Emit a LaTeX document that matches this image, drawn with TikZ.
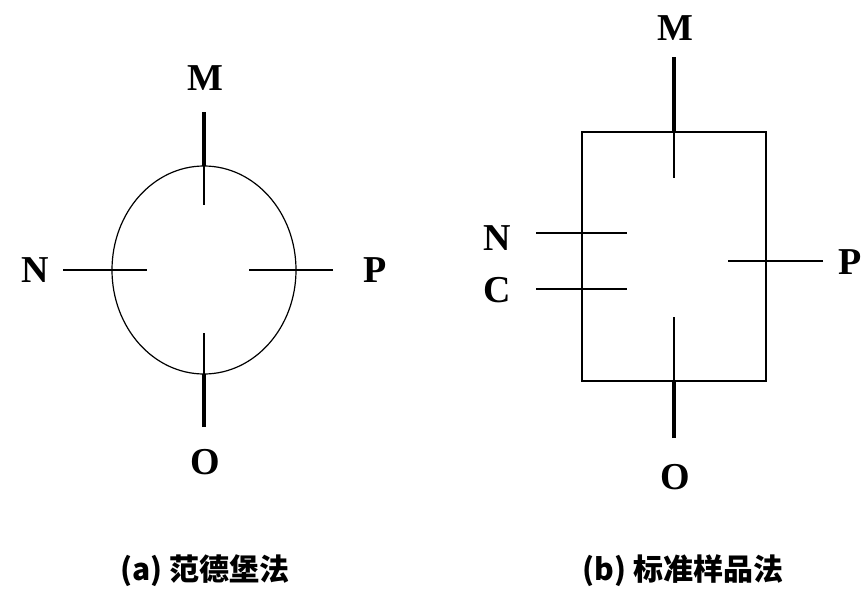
\documentclass[tikz,border=0pt]{standalone}
\usepackage{fontspec}
\setmainfont{Liberation Serif}
\newfontfamily\cjk{Noto Sans CJK SC}
\usetikzlibrary{shapes.geometric}

\begin{document}
\begin{tikzpicture}[
x=0.5pt,
y=-0.5pt,
lead/.style={line width=1.8pt},
sidelead/.style={line width=1pt},
probe/.style={line width=0.6pt},
sample/.style={draw,
line width=0.6pt,
inner sep=0pt,
outer sep=0pt},
tag/.style={font=\fontsize{19}{21}\selectfont\bfseries, inner sep=0pt},
caption/.style={font=\cjk\bfseries\fontsize{15}{17}\selectfont, inner sep=0pt}
]
\useasboundingbox (0,0) rectangle (867,594);

% (a) van der Pauw sample
\node[sample, ellipse, minimum width=92pt, minimum height=104pt] (disc) at (204,270) {};

\coordinate (aMout) at (204,112);
\coordinate (aMin) at (204,205);
\coordinate (aNout) at (63,270);
\coordinate (aNin) at (147,270);
\coordinate (aPout) at (333,270);
\coordinate (aPin) at (249,270);
\coordinate (aOout) at (204,427);
\coordinate (aOin) at (204,333);

\draw[lead] (aMout) -- (disc.north);
\draw[probe] (disc.north) -- (aMin);
\draw[sidelead] (aNout) -- (disc.west);
\draw[probe] (disc.west) -- (aNin);
\draw[sidelead] (aPout) -- (disc.east);
\draw[probe] (disc.east) -- (aPin);
\draw[lead] (aOout) -- (disc.south);
\draw[probe] (disc.south) -- (aOin);

\node[tag] (aM) at (205,78) {M};
\node[tag] (aN) at (35,270) {N};
\node[tag] (aP) at (375,270) {P};
\node[tag] (aO) at (205,462) {O};

% (b) standard sample
\node[sample, rectangle, minimum width=92pt, minimum height=124.5pt] (bar) at (674,256.5) {};

\coordinate (bMout) at (674,57);
\coordinate (bMin) at (674,178);
\coordinate (bOout) at (674,438);
\coordinate (bOin) at (674,317);
\coordinate (bNout) at (536,233);
\coordinate (bNin) at (627,233);
\coordinate (bCout) at (536,289);
\coordinate (bCin) at (627,289);
\coordinate (bPout) at (823,261);
\coordinate (bPin) at (728,261);
\coordinate (bNedge) at (bar.west |- bNout);
\coordinate (bCedge) at (bar.west |- bCout);
\coordinate (bPedge) at (bar.east |- bPout);

\draw[lead] (bMout) -- (bar.north);
\draw[probe] (bar.north) -- (bMin);
\draw[lead] (bOout) -- (bar.south);
\draw[probe] (bar.south) -- (bOin);
\draw[sidelead] (bNout) -- (bNedge);
\draw[probe] (bNedge) -- (bNin);
\draw[sidelead] (bCout) -- (bCedge);
\draw[probe] (bCedge) -- (bCin);
\draw[sidelead] (bPout) -- (bPedge);
\draw[probe] (bPedge) -- (bPin);

\node[tag] (bM) at (675,28) {M};
\node[tag] (bN) at (497,238) {N};
\node[tag] (bC) at (497,290) {C};
\node[tag] (bP) at (850,262) {P};
\node[tag] (bO) at (675,477) {O};

% captions
\node[caption] (capA) at (205,571) {(a) 范德堡法};
\node[caption] (capB) at (683,571) {(b) 标准样品法};

\end{tikzpicture}
\end{document}
